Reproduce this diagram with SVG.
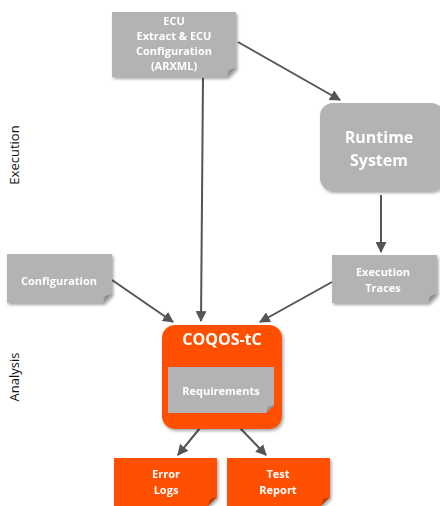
<svg xmlns="http://www.w3.org/2000/svg" width="440" height="506" viewBox="0 0 440 506">
<defs>
<filter id="sh" x="-10%" y="-10%" width="130%" height="130%"><feDropShadow dx="1.5" dy="2" stdDeviation="1.5" flood-color="#000" flood-opacity="0.35"/></filter>
<marker id="ar" viewBox="0 0 10 10" refX="9" refY="5" markerWidth="5.5" markerHeight="5.5" orient="auto-start-reverse" markerUnits="strokeWidth"><path d="M0,0 L10,5 L0,10 z" fill="#555"/></marker>
<style>
.g{fill:#b3b3b3}
.o{fill:#ff5000}
.fold{fill:#8f8f8f}
.ofold{fill:#c23c00}
.t{font-family:"Open Sans","Liberation Sans",sans-serif;font-weight:700;fill:#fff;text-anchor:middle}
.lbl{font-family:"Open Sans","Liberation Sans",sans-serif;fill:#111;text-anchor:middle;font-size:13px}
.c{stroke:#555;stroke-width:2;fill:none;marker-end:url(#ar)}
</style>
</defs>
<rect width="440" height="506" fill="#fff"/>
<text class="lbl" transform="translate(19,155) rotate(-90)">Execution</text>
<text class="lbl" transform="translate(19,377) rotate(-90)">Analysis</text>
<g id="connectors">
<line class="c" x1="238" y1="42" x2="340" y2="100"/>
<line class="c" x1="203" y1="78" x2="201" y2="321"/>
<line class="c" x1="381" y1="195" x2="381" y2="252"/>
<line class="c" x1="112" y1="280" x2="173" y2="322"/>
<line class="c" x1="332" y1="282" x2="260" y2="322"/>
<line class="c" x1="200" y1="428" x2="178" y2="455"/>
<line class="c" x1="240" y1="428" x2="266" y2="455"/>
</g>
<g id="ecu" filter="url(#sh)">
<path class="g" d="M112,12 H236 V68 L227,77 H112 Z"/>
<path class="fold" d="M236,68 L227,77 L229,70 Z"/>
<text class="t" font-size="11"><tspan x="174" y="25">ECU</tspan><tspan x="174" y="40">Extract &amp; ECU</tspan><tspan x="174" y="55">Configuration</tspan><tspan x="174" y="70">(ARXML)</tspan></text>
</g>
<g id="runtime" filter="url(#sh)">
<rect class="g" x="320" y="103" width="124" height="88" rx="13"/>
<text class="t" font-size="16"><tspan x="379" y="143">Runtime</tspan><tspan x="379" y="166">System</tspan></text>
</g>
<g id="configuration" filter="url(#sh)">
<path class="g" d="M7,254 H112 V294 L103,303 H7 Z"/>
<path class="fold" d="M112,294 L103,303 L105,296 Z"/>
<text class="t" font-size="11" x="59" y="285">Configuration</text>
</g>
<g id="traces" filter="url(#sh)">
<path class="g" d="M332,255 H437 V294 L428,303 H332 Z"/>
<path class="fold" d="M437,294 L428,303 L430,296 Z"/>
<text class="t" font-size="11"><tspan x="383" y="276">Execution</tspan><tspan x="383" y="292">Traces</tspan></text>
</g>
<g id="coqos" filter="url(#sh)">
<rect class="o" x="162" y="325" width="120" height="104" rx="13"/>
<text class="t" font-size="16" x="222" y="345">COQOS-tC</text>
<path class="g" d="M168,367 H274 V405 L266,413 H168 Z"/>
<path class="fold" d="M274,405 L266,413 L268,407 Z"/>
<text class="t" font-size="11" x="221" y="395">Requirements</text>
</g>
<g id="errorlogs" filter="url(#sh)">
<path class="o" d="M114,458 H217 V497 L208,506 H114 Z"/>
<path class="ofold" d="M217,497 L208,506 L210,499 Z"/>
<text class="t" font-size="11"><tspan x="166" y="478">Error</tspan><tspan x="166" y="494">Logs</tspan></text>
</g>
<g id="testreport" filter="url(#sh)">
<path class="o" d="M227,458 H330 V497 L321,506 H227 Z"/>
<path class="ofold" d="M330,497 L321,506 L323,499 Z"/>
<text class="t" font-size="11"><tspan x="278" y="478">Test</tspan><tspan x="278" y="494">Report</tspan></text>
</g>
</svg>
